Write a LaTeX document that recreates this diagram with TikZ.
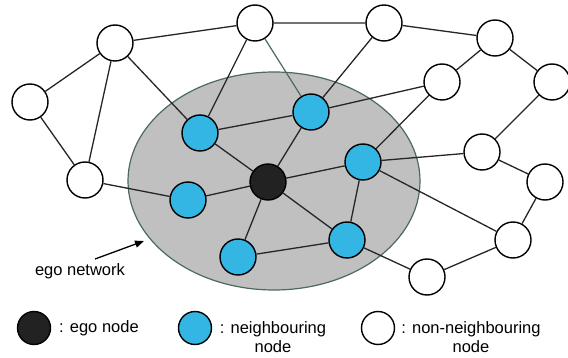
\documentclass[tikz,border=0pt]{standalone}
\usepackage{fontspec}
\setmainfont{Liberation Sans}
\usetikzlibrary{arrows.meta}

\definecolor{nbblue}{RGB}{52,182,228}
\definecolor{egoblack}{RGB}{34,34,34}
\definecolor{egogray}{RGB}{192,192,192}
\definecolor{egorim}{RGB}{74,106,90}

\begin{document}
\begin{tikzpicture}[x=1pt, y=-1pt,
    every node/.style={font=\fontsize{16.5}{19}\selectfont},
    othernode/.style={circle, draw, line width=1.4pt, fill=white, inner sep=0pt, minimum size=36pt},
    nbnode/.style={othernode, fill=nbblue},
    egonode/.style={othernode, fill=egoblack},
    link/.style={line width=1.3pt, draw=black!85}]
  \useasboundingbox (0,0) rectangle (568,358);

  % ego network area
  \draw[fill=egogray, draw=egorim, line width=1.2pt] (274,181) ellipse [x radius=146, y radius=109];

  % non-neighbouring nodes
  \node[othernode] (w1) at (30,102) {};
  \node[othernode] (w2) at (115,43) {};
  \node[othernode] (w3) at (255,23) {};
  \node[othernode] (w4) at (384,23) {};
  \node[othernode] (w5) at (495,38) {};
  \node[othernode] (w6) at (442,82) {};
  \node[othernode] (w7) at (552,82) {};
  \node[othernode] (w8) at (85,180) {};
  \node[othernode] (w9) at (482,152) {};
  \node[othernode] (w10) at (545,182) {};
  \node[othernode] (w11) at (513,240) {};
  \node[othernode] (w12) at (427,277) {};

  % neighbouring nodes
  \node[nbnode] (b1) at (200,133) {};
  \node[nbnode] (b2) at (311,112) {};
  \node[nbnode] (b3) at (363,162) {};
  \node[nbnode] (b4) at (188,200) {};
  \node[nbnode] (b5) at (238,257) {};
  \node[nbnode] (b6) at (347,240) {};

  % ego node
  \node[egonode] (ego) at (268,182) {};

  \draw[link] (w1) -- (w2) -- (w3) -- (w4) -- (w5) -- (w6) -- (b3);
  \draw[link] (w1) -- (w8) -- (w2) -- (b1) -- (w3);
  \draw[link] (w4) -- (b2) -- (w6);
  \draw[link] (w5) -- (w7) -- (w9) -- (b3) -- (w11) -- (w10) -- (w9);
  \draw[link] (w11) -- (w12) -- (b6);
  \draw[link] (w8) -- (b4) -- (ego);
  \draw[link] (b1) -- (b2) -- (ego) -- (b1);
  \draw[link] (b3) -- (ego) -- (b5) -- (b6) -- (ego);
  \draw[link] (b3) -- (b6);
  \draw[line width=1.2pt, draw=egorim] (w3) -- (b2);

  % label
  \coordinate (tail) at (95,259);
  \coordinate (tip) at (144,241);
  \node (egolabel) at (80,271) {ego network};
  \draw[line width=1.3pt, -{Triangle[length=9pt, width=7pt]}] (tail) -- (tip);

  % legend
  \node[egonode, minimum size=33pt] (legego) at (34,328) {};
  \node[anchor=west, inner sep=0pt] (txtego) at (59,328) {: ego node};
  \node[nbnode, minimum size=33pt] (legnb) at (195,328) {};
  \node[align=center, inner sep=0pt] (txtnb) at (273,337) {: neighbouring\\node};
  \node[othernode, minimum size=33pt] (legother) at (378,328) {};
  \node[align=center, inner sep=0pt] (txtother) at (471,337) {: non-neighbouring\\node};
\end{tikzpicture}
\end{document}
